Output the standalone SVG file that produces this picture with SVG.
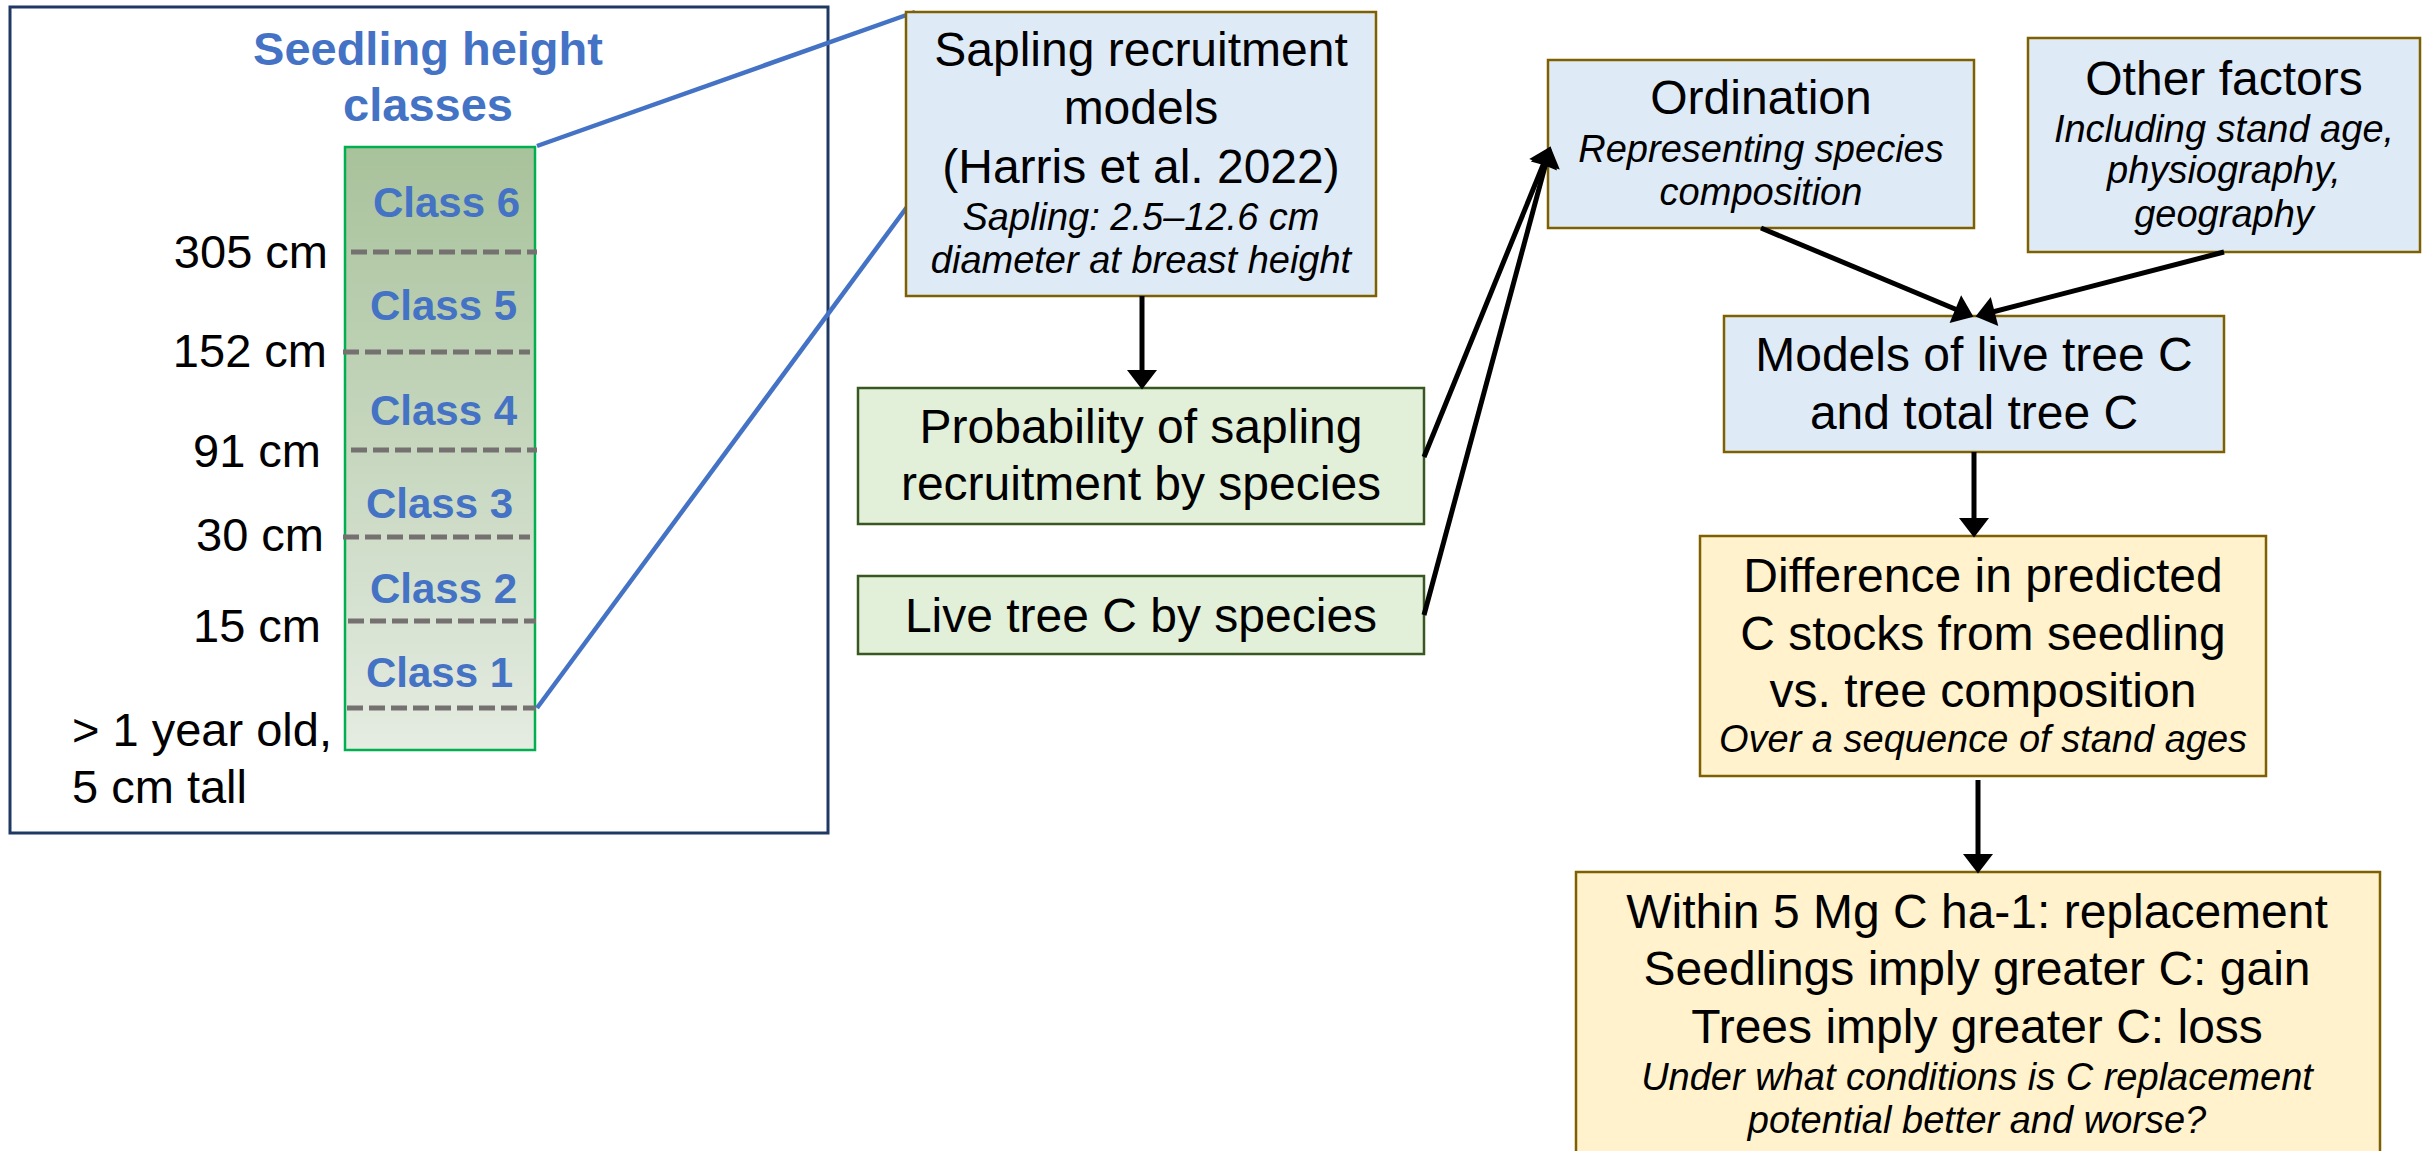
<svg xmlns="http://www.w3.org/2000/svg" width="2430" height="1151" viewBox="0 0 2430 1151">
  <defs>
    <linearGradient id="colGrad" x1="0" y1="0" x2="0" y2="1">
      <stop offset="0" stop-color="#A8C29B"/>
      <stop offset="1" stop-color="#E5ECE2"/>
    </linearGradient>
    <marker id="arr" markerUnits="userSpaceOnUse" markerWidth="30" markerHeight="30" viewBox="0 0 17 26" refX="7" refY="13" orient="auto">
      <path d="M0,0 L17,13 L0,26 z" fill="#000"/>
    </marker>
    <style>
      text { font-family: "Liberation Sans", Arial, sans-serif; fill: #000; }
      .main { font-size: 48px; text-anchor: middle; }
      .ital { font-size: 38px; font-style: italic; text-anchor: middle; }
      .lbl { font-size: 47px; }
      .cls { font-size: 42px; font-weight: bold; fill: #4472C4; }
      .title { font-size: 47px; font-weight: bold; fill: #4472C4; text-anchor: middle; }
      .blue { fill: #DEEBF7; stroke: #7F6000; stroke-width: 2.5; }
      .green { fill: #E2F0D9; stroke: #385723; stroke-width: 2.5; }
      .yellow { fill: #FFF2CC; stroke: #7F6000; stroke-width: 2.5; }
      .dash { stroke: #767171; stroke-width: 5; stroke-dasharray: 16 6; fill: none; }
      .conn { stroke: #000; stroke-width: 5; fill: none; marker-end: url(#arr); }
      .zoomline { stroke: #4472C4; stroke-width: 4.5; fill: none; }
    </style>
  </defs>
  <rect width="2430" height="1151" fill="#fff"/>

  <g id="seedling-panel">
    <rect x="10" y="7" width="818" height="826" fill="#fff" stroke="#203864" stroke-width="3"/>
    <text class="title" x="428" y="65">Seedling height</text>
    <text class="title" x="428" y="121">classes</text>
    <rect x="345" y="147" width="190" height="603" fill="url(#colGrad)" stroke="#00B050" stroke-width="2.5"/>
    <line class="dash" x1="351" y1="252" x2="537" y2="252"/>
    <line class="dash" x1="343" y1="352" x2="530" y2="352"/>
    <line class="dash" x1="351" y1="450" x2="537" y2="450"/>
    <line class="dash" x1="343" y1="537" x2="530" y2="537"/>
    <line class="dash" x1="348" y1="621" x2="536" y2="621"/>
    <line class="dash" x1="347" y1="708" x2="536" y2="708"/>
    <text class="cls" x="373" y="217">Class 6</text>
    <text class="cls" x="370" y="320">Class 5</text>
    <text class="cls" x="370" y="425">Class 4</text>
    <text class="cls" x="366" y="518">Class 3</text>
    <text class="cls" x="370" y="603">Class 2</text>
    <text class="cls" x="366" y="687">Class 1</text>
    <text class="lbl" x="328" y="268" text-anchor="end">305 cm</text>
    <text class="lbl" x="327" y="367" text-anchor="end">152 cm</text>
    <text class="lbl" x="321" y="467" text-anchor="end">91 cm</text>
    <text class="lbl" x="324" y="551" text-anchor="end">30 cm</text>
    <text class="lbl" x="321" y="642" text-anchor="end">15 cm</text>
    <text class="lbl" x="72" y="746">&gt; 1 year old,</text>
    <text class="lbl" x="72" y="803">5 cm tall</text>
  </g>

  <g id="zoom-lines">
    <line class="zoomline" x1="537" y1="146" x2="915" y2="12"/>
    <line class="zoomline" x1="537" y1="708" x2="907" y2="207"/>
  </g>

  <g id="sapling-models">
    <rect class="blue" x="906" y="12" width="470" height="284"/>
    <text class="main" x="1141" y="66">Sapling recruitment</text>
    <text class="main" x="1141" y="124">models</text>
    <text class="main" x="1141" y="183">(Harris et al. 2022)</text>
    <text class="ital" x="1141" y="230">Sapling: 2.5–12.6 cm</text>
    <text class="ital" x="1141" y="273">diameter at breast height</text>
  </g>

  <g id="probability">
    <rect class="green" x="858" y="388" width="566" height="136"/>
    <text class="main" x="1141" y="443">Probability of sapling</text>
    <text class="main" x="1141" y="500">recruitment by species</text>
  </g>

  <g id="live-tree">
    <rect class="green" x="858" y="576" width="566" height="78"/>
    <text class="main" x="1141" y="632">Live tree C by species</text>
  </g>

  <g id="ordination">
    <rect class="blue" x="1548" y="60" width="426" height="168"/>
    <text class="main" x="1761" y="114">Ordination</text>
    <text class="ital" x="1761" y="162">Representing species</text>
    <text class="ital" x="1761" y="205">composition</text>
  </g>

  <g id="other-factors">
    <rect class="blue" x="2028" y="38" width="392" height="214"/>
    <text class="main" x="2224" y="95">Other factors</text>
    <text class="ital" x="2224" y="142">Including stand age,</text>
    <text class="ital" x="2224" y="183">physiography,</text>
    <text class="ital" x="2224" y="227">geography</text>
  </g>

  <g id="models-c">
    <rect class="blue" x="1724" y="316" width="500" height="136"/>
    <text class="main" x="1974" y="371">Models of live tree C</text>
    <text class="main" x="1974" y="429">and total tree C</text>
  </g>

  <g id="difference">
    <rect class="yellow" x="1700" y="536" width="566" height="240"/>
    <text class="main" x="1983" y="592">Difference in predicted</text>
    <text class="main" x="1983" y="650">C stocks from seedling</text>
    <text class="main" x="1983" y="707">vs. tree composition</text>
    <text class="ital" x="1983" y="752">Over a sequence of stand ages</text>
  </g>

  <g id="outcomes">
    <rect class="yellow" x="1576" y="872" width="804" height="290"/>
    <text class="main" x="1977" y="928">Within 5 Mg C ha-1: replacement</text>
    <text class="main" x="1977" y="985">Seedlings imply greater C: gain</text>
    <text class="main" x="1977" y="1043">Trees imply greater C: loss</text>
    <text class="ital" x="1977" y="1090">Under what conditions is C replacement</text>
    <text class="ital" x="1977" y="1133">potential better and worse?</text>
  </g>

  <g id="connectors">
    <path class="conn" d="M1142,296 L1142,378"/>
    <path class="conn" d="M1424,457 L1546.2,157.3"/>
    <path class="conn" d="M1424,615 L1547.4,157.7"/>
    <path class="conn" d="M1761,228 L1962.8,312.2"/>
    <path class="conn" d="M2224,252 L1986.7,313.5"/>
    <path class="conn" d="M1974,452 L1974,526"/>
    <path class="conn" d="M1978,780 L1978,862"/>
  </g>
</svg>
